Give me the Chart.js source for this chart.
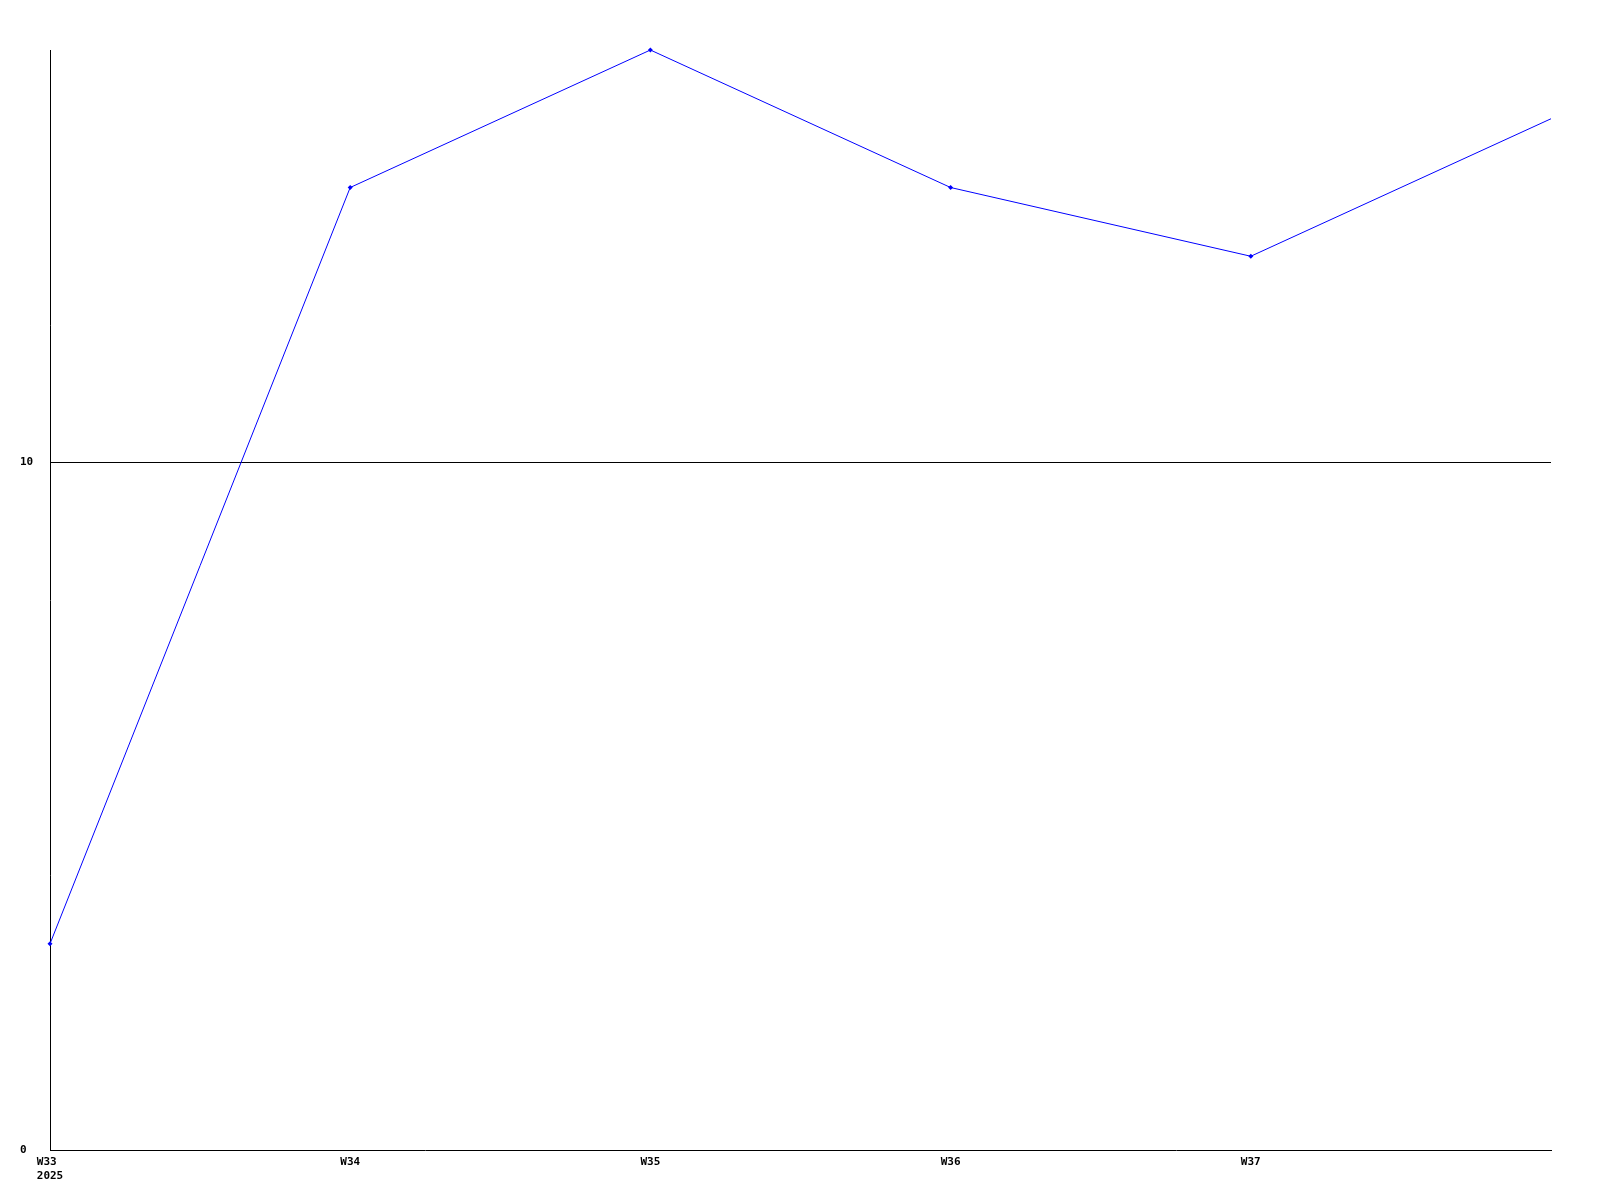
<!DOCTYPE html>
<html><head><meta charset="utf-8">
<script src="https://cdn.jsdelivr.net/npm/chart.js@4"></script>
<style>html,body{margin:0;padding:0;background:#fff}#wrap{width:1600px;height:1200px}</style>
</head><body><div id="wrap"><canvas id="c" width="1600" height="1200"></canvas></div>
<script>
const categories = ['W33', 'W34', 'W35', 'W36', 'W37', 'W38'];
const values = [3, 14, 16, 14, 13, 15];
const yTicks = [0, 10];
const firstLabelYear = '2025';

const FONT = {family: '"DejaVu Sans Mono", "Liberation Mono", monospace', size: 11, weight: 'bold'};

new Chart(document.getElementById('c'), {
  type: 'line',
  data: {
    labels: categories,
    datasets: [{
      data: values,
      borderColor: '#0000ff',
      backgroundColor: '#0000ff',
      borderWidth: 1,
      tension: 0,
      fill: false,
      pointStyle: 'rectRot',
      pointRadius: values.map((v, i) => i === values.length - 1 ? 0 : 2.5),
      pointBorderWidth: 0,
      clip: false
    }]
  },
  options: {
    responsive: false,
    animation: false,
    devicePixelRatio: 1,
    layout: {padding: {left: 20, top: 50, right: 49, bottom: 0}},
    plugins: {legend: {display: false}, tooltip: {enabled: false}},
    scales: {
      x: {
        type: 'category',
        offset: false,
        grid: {display: false, drawTicks: false},
        border: {display: true, color: '#000', width: 1},
        ticks: {
          color: '#000', font: FONT, padding: 6, maxRotation: 0, autoSkip: false,
          callback: function(v, i) {
            if (i === categories.length - 1) return '';
            return i === 0 ? [categories[i] + ' ', firstLabelYear] : categories[i];
          }
        },
        afterFit: s => { s.height = 50; }
      },
      y: {
        min: 0, max: 16,
        afterBuildTicks: s => { s.ticks = yTicks.map(v => ({value: v})); },
        grid: {
          drawTicks: false,
          color: ctx => (ctx.tick && ctx.tick.value === 10) ? '#000' : 'rgba(0,0,0,0)',
          lineWidth: 1
        },
        border: {display: true, color: '#000', width: 1},
        ticks: {color: '#000', font: FONT, padding: 17, crossAlign: 'far'},
        afterFit: s => { s.width = 30; }
      }
    }
  }
});
</script></body></html>
